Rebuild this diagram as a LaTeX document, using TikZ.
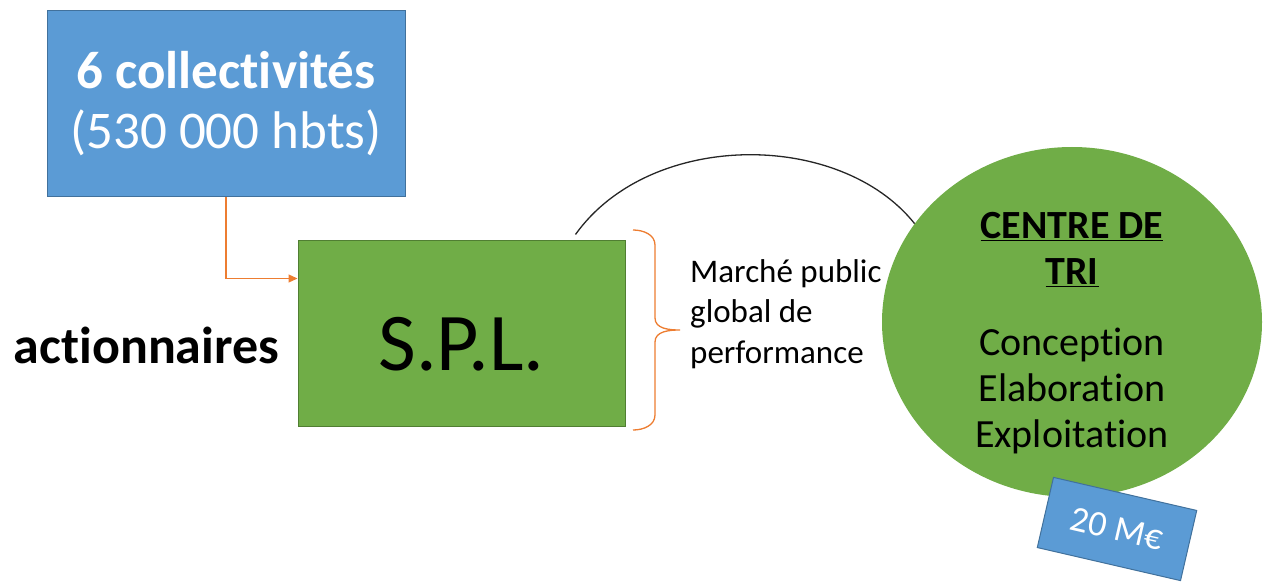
\documentclass[tikz,border=0pt]{standalone}
\usepackage{fontspec}
\setmainfont{Carlito}[RawFeature={-liga;-clig;-calt;-dlig}]
\usetikzlibrary{arrows.meta,shapes.geometric}
\definecolor{cblue}{HTML}{5B9BD5}
\definecolor{cblueb}{HTML}{41719C}
\definecolor{cgreen}{HTML}{70AD47}
\definecolor{cgreenb}{HTML}{507E32}
\definecolor{corange}{HTML}{ED7D31}
\tikzset{
  bluebox/.style={draw=cblueb, line width=1pt, fill=cblue, text=white, inner sep=0pt, align=center},
  greenbox/.style={draw=cgreenb, line width=1pt, fill=cgreen, inner sep=0pt},
  greenoval/.style={ellipse, fill=cgreen, inner sep=0pt, minimum width=380pt, minimum height=350pt},
  orangearrow/.style={draw=corange, line width=1.3pt, -{Triangle[length=9pt,width=8pt]}},
  orangebrace/.style={draw=corange, line width=1.3pt},
  arcline/.style={draw=black!85, line width=1.3pt},
}
\begin{document}
\begin{tikzpicture}[x=1pt,y=-1pt]
\useasboundingbox (0,0) rectangle (1266,588);
% blue box
\node[bluebox, minimum width=358pt, minimum height=186pt,
      font=\fontsize{53}{60}\selectfont] (col) at (226,104)
  {\textbf{6 collectivités}\\(530 000 hbts)};
% green SPL box
\node[greenbox, minimum width=327pt, minimum height=186pt,
      text height=75pt, text depth=0pt,
      font=\fontsize{82}{90}\selectfont] (spl) at (461.5,333)
  {S.P.L.};
% actionnaires
\node[anchor=base, inner sep=0pt, font=\fontsize{52}{60}\selectfont\bfseries] (act) at (146.5,363) {actionnaires};
% arrow
\draw[orangearrow] (col.south) |- ([yshift=-39pt]spl.north west);
% brace
\draw[orangebrace] (633,230) to[out=0,in=90] (655,245) -- (655,318)
  to[out=-90,in=180] (680,330) to[out=180,in=90] (655,342) -- (655,415)
  to[out=-90,in=0] (633,430);
% marche text
\node[anchor=west, align=left, inner sep=0pt, font=\fontsize{33}{40.5}\selectfont] (mar) at (690,314)
  {Marché public\\global de\\performance};
% oval
\node[greenoval] (tri) at (1072,322) {};
\node[align=center, inner sep=0pt, font=\fontsize{40}{46}\selectfont] (tritext) at (1072,333)
  {\textbf{\underline{CENTRE DE}}\\\textbf{\underline{TRI}}\\[25pt]Conception\\Elaboration\\Exploitation};
% arc
\draw[arcline] ([xshift=-50pt,yshift=5pt]spl.north east) .. controls (650,130) and (840,130) .. (tri.148);
% price box
\node[bluebox, rotate=-13, minimum width=147pt, minimum height=72pt,
      font=\fontsize{36}{40}\selectfont] (price) at (1117,529) {20 M€};
\end{tikzpicture}
\end{document}
